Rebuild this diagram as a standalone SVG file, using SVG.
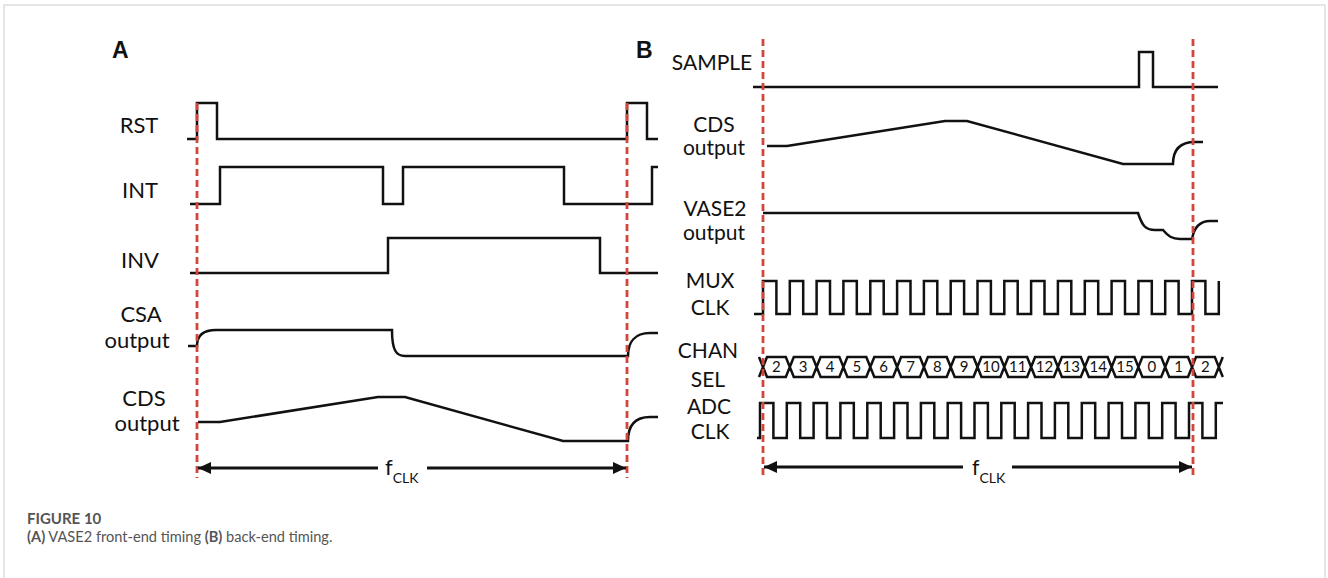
<svg xmlns="http://www.w3.org/2000/svg" width="1328" height="578" viewBox="0 0 1328 578">
<style>
.sig{fill:none;stroke:#111;stroke-width:2.5;stroke-linejoin:miter}
.lbl{font-family:Lato,"Liberation Sans",sans-serif;font-size:21px;fill:#111;text-anchor:middle}
.lblA{font-family:Lato,"Liberation Sans",sans-serif;font-size:22px;fill:#111;text-anchor:middle}
.num{font-family:Lato,"Liberation Sans",sans-serif;font-size:15px;fill:#111;text-anchor:middle}
.ref{fill:none;stroke:#d2463b;stroke-width:2.8;stroke-dasharray:7 4}
.arr{fill:none;stroke:#111;stroke-width:3}
.panel{font-family:"Liberation Sans",Arial,sans-serif;font-size:23px;font-weight:bold;fill:#111}
.cap{font-family:Lato,"Liberation Sans",sans-serif;fill:#555}
</style>
<defs>
<marker id="ah" markerUnits="userSpaceOnUse" markerWidth="14" markerHeight="12" refX="13" refY="6" orient="auto-start-reverse">
<path d="M0,0 L13,6 L0,12 Z" fill="#111"/>
</marker>
</defs>
<rect x="4" y="5" width="1321" height="620" fill="#fff" stroke="#d4d4d4" stroke-width="1.2"/>

<text class="panel" x="112" y="58">A</text>
<text class="panel" x="636" y="58">B</text>

<!-- Panel A -->
<g id="a-rst"><text class="lblA" x="139" y="133">RST</text>
<path class="sig" d="M187,139 H197 V103 H217 V139 H627 V103 H647 V139 H658"/></g>
<g id="a-int"><text class="lblA" x="140" y="198">INT</text>
<path class="sig" d="M190,204 H220 V167 H383 V204 H403 V167 H564 V204 H652 V167 H658"/></g>
<g id="a-inv"><text class="lblA" x="140" y="268">INV</text>
<path class="sig" d="M190,273 H388 V238 H600 V273 H658"/></g>
<g id="a-csa"><text class="lblA" x="141" y="322">CSA</text><text class="lblA" x="137" y="348">output</text>
<path class="sig" d="M188,346 H197 C197,336 202,330 216,330 H392 C392,350 396,356 405,356 H628 C628,342 635,333 650,333 H658"/></g>
<g id="a-cds"><text class="lblA" x="144" y="406">CDS</text><text class="lblA" x="147" y="431">output</text>
<path class="sig" d="M198,422 H220 L378,397 H405 L563,441 H628 C628,426 635,417 650,417 H658"/></g>

<!-- Panel B -->
<g id="b-sample"><text class="lbl" x="712" y="70">SAMPLE</text>
<path class="sig" d="M753,87 H1139 V52 H1153 V87 H1218"/></g>
<g id="b-cds"><text class="lbl" x="714" y="132">CDS</text><text class="lbl" x="714" y="155">output</text>
<path class="sig" d="M767,146 H787 L945,121 H967 L1123,164 H1173 C1173,150 1180,142 1195,142 H1203"/></g>
<g id="b-vase2"><text class="lbl" x="715" y="216" font-size="20">VASE2</text><text class="lbl" x="714" y="240" font-size="20">output</text>
<path class="sig" d="M763,213 H1138 C1142,225 1145,230 1155,230 H1163 C1168,236 1172,239 1180,239 H1192 C1194,228 1200,221 1210,221 H1218"/></g>
<g id="b-mux"><text class="lbl" x="710" y="288">MUX</text><text class="lbl" x="710" y="315">CLK</text>
<path class="sig" d="M754,314 H763 V281 H776.4 V314 H789.8 V281 H803.2 V314 H816.6 V281 H830 V314 H843.4 V281 H856.8 V314 H870.3 V281 H883.7 V314 H897.1 V281 H910.5 V314 H923.9 V281 H937.3 V314 H950.7 V281 H964.1 V314 H977.5 V281 H990.9 V314 H1004.3 V281 H1017.7 V314 H1031.1 V281 H1044.5 V314 H1057.9 V281 H1071.3 V314 H1084.8 V281 H1098.2 V314 H1111.6 V281 H1125 V314 H1138.4 V281 H1151.8 V314 H1165.2 V281 H1178.6 V314 H1192 V281 H1205.4 V314 H1218.8 V281"/></g>
<g id="b-chansel"><text class="lbl" x="708" y="358">CHAN</text><text class="lbl" x="708" y="387">SEL</text>
<path class="sig" d="M759,357 L763,367 L759,377 M1222.8,357 L1218.8,367 L1222.8,377
M763,367 L767,357 H785.8 L789.8,367 L785.8,377 H767 Z
M789.8,367 L793.8,357 H812.6 L816.6,367 L812.6,377 H793.8 Z
M816.6,367 L820.6,357 H839.4 L843.4,367 L839.4,377 H820.6 Z
M843.4,367 L847.4,357 H866.3 L870.3,367 L866.3,377 H847.4 Z
M870.3,367 L874.3,357 H893.1 L897.1,367 L893.1,377 H874.3 Z
M897.1,367 L901.1,357 H919.9 L923.9,367 L919.9,377 H901.1 Z
M923.9,367 L927.9,357 H946.7 L950.7,367 L946.7,377 H927.9 Z
M950.7,367 L954.7,357 H973.5 L977.5,367 L973.5,377 H954.7 Z
M977.5,367 L981.5,357 H1000.3 L1004.3,367 L1000.3,377 H981.5 Z
M1004.3,367 L1008.3,357 H1027.1 L1031.1,367 L1027.1,377 H1008.3 Z
M1031.1,367 L1035.1,357 H1053.9 L1057.9,367 L1053.9,377 H1035.1 Z
M1057.9,367 L1061.9,357 H1080.8 L1084.8,367 L1080.8,377 H1061.9 Z
M1084.8,367 L1088.8,357 H1107.6 L1111.6,367 L1107.6,377 H1088.8 Z
M1111.6,367 L1115.6,357 H1134.4 L1138.4,367 L1134.4,377 H1115.6 Z
M1138.4,367 L1142.4,357 H1161.2 L1165.2,367 L1161.2,377 H1142.4 Z
M1165.2,367 L1169.2,357 H1188 L1192,367 L1188,377 H1169.2 Z
M1192,367 L1196,357 H1214.8 L1218.8,367 L1214.8,377 H1196 Z"/>
<text class="num" x="776.4" y="372">2</text><text class="num" x="803.2" y="372">3</text><text class="num" x="830" y="372">4</text><text class="num" x="856.8" y="372">5</text><text class="num" x="883.7" y="372">6</text><text class="num" x="910.5" y="372">7</text><text class="num" x="937.3" y="372">8</text><text class="num" x="964.1" y="372">9</text><text class="num" x="990.9" y="372">10</text><text class="num" x="1017.7" y="372">11</text><text class="num" x="1044.5" y="372">12</text><text class="num" x="1071.3" y="372">13</text><text class="num" x="1098.2" y="372">14</text><text class="num" x="1125" y="372">15</text><text class="num" x="1151.8" y="372">0</text><text class="num" x="1178.6" y="372">1</text><text class="num" x="1205.4" y="372">2</text></g>
<g id="b-adc"><text class="lbl" x="709" y="414">ADC</text><text class="lbl" x="710" y="439">CLK</text>
<path class="sig" d="M757,438 H760 V403 H773.4 V438 H786.8 V403 H800.2 V438 H813.6 V403 H827 V438 H840.4 V403 H853.8 V438 H867.3 V403 H880.7 V438 H894.1 V403 H907.5 V438 H920.9 V403 H934.3 V438 H947.7 V403 H961.1 V438 H974.5 V403 H987.9 V438 H1001.3 V403 H1014.7 V438 H1028.1 V403 H1041.5 V438 H1054.9 V403 H1068.3 V438 H1081.8 V403 H1095.2 V438 H1108.6 V403 H1122 V438 H1135.4 V403 H1148.8 V438 H1162.2 V403 H1175.6 V438 H1189 V403 H1202.4 V438 H1215.8 V403 H1223"/></g>

<!-- reference lines and period arrows -->
<g id="connectors">
<line class="ref" x1="197" y1="103" x2="197" y2="478"/>
<line class="ref" x1="627" y1="103" x2="627" y2="478"/>
<line class="ref" x1="763" y1="39" x2="763" y2="478"/>
<line class="ref" x1="1193" y1="39" x2="1193" y2="478"/>
<line class="arr" x1="378" y1="468" x2="198" y2="468" marker-end="url(#ah)"/>
<line class="arr" x1="427" y1="468" x2="626" y2="468" marker-end="url(#ah)"/>
<line class="arr" x1="963" y1="467" x2="764" y2="467" marker-end="url(#ah)"/>
<line class="arr" x1="1012" y1="467" x2="1192" y2="467" marker-end="url(#ah)"/>
</g>
<g id="fclk-labels">
<text class="lblA" style="text-anchor:start" x="385" y="475">f<tspan font-size="14" dy="8">CLK</tspan></text>
<text class="lbl" style="text-anchor:start" x="972" y="475">f<tspan font-size="14" dy="8">CLK</tspan></text>
</g>

<g id="caption">
<text class="cap" x="27" y="524" font-size="15" font-weight="bold">FIGURE 10</text>
<text class="cap" x="27" y="542" font-size="14.6"><tspan font-weight="bold">(A)</tspan> VASE2 front-end timing <tspan font-weight="bold">(B)</tspan> back-end timing.</text>
</g>
</svg>
